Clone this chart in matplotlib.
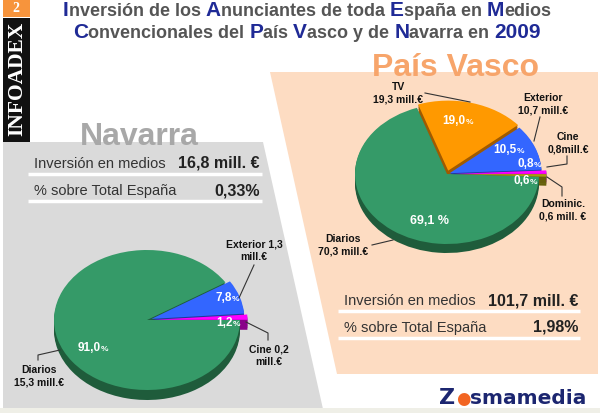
import matplotlib
matplotlib.use("Agg")
import matplotlib.pyplot as plt
from matplotlib.patches import Polygon

W, H = 600, 413

# ---- data ----
nav_labels = ["Cine", "Exterior", "Diarios"]
nav_pct = [1.2, 7.8, 91.0]
nav_outer = ["Cine 0,2\nmill.€", "Exterior 1,3\nmill.€", "Diarios\n15,3 mill.€"]
nav_total = "16,8 mill. €"
nav_share = "0,33%"

pv_labels = ["Cine", "Exterior", "TV", "Diarios", "Dominic."]
pv_pct = [0.8, 10.5, 19.0, 69.1, 0.6]
pv_outer = ["Cine\n0,8mill.€", "Exterior\n10,7 mill.€", "TV\n19,3 mill.€",
            "Diarios\n70,3 mill.€", "Dominic.\n0,6 mill. €"]
pv_total = "101,7 mill. €"
pv_share = "1,98%"

face = {"Diarios": "#359a68", "TV": "#ff9900", "Exterior": "#3366ff",
        "Cine": "#ff00ff", "Dominic.": "#a89c10"}
side = {"Diarios": "#1f5c3b", "TV": "#a05a00", "Exterior": "#1f3a99",
        "Cine": "#8a008a", "Dominic.": "#66600a"}

SANS = "Liberation Sans"
GREY_T = "#555555"
BLUE_T = "#1f2a96"

fig = plt.figure(figsize=(W / 100, H / 100), dpi=100)


def full_ax():
    a = fig.add_axes([0, 0, 1, 1])
    a.set_xlim(0, W)
    a.set_ylim(H, 0)
    a.set_axis_off()
    return a


bg = full_ax()
# panels
bg.add_patch(Polygon([(3, 142), (263, 142), (323, 409), (3, 409)], color="#dadada", lw=0))
bg.add_patch(Polygon([(270, 72), (598, 72), (598, 374), (337, 374)], color="#fddcc2", lw=0))
bg.add_patch(Polygon([(0, 408), (W, 408), (W, H), (0, H)], color="#efefe7", lw=0))
bg.add_patch(Polygon([(3, 0), (30, 0), (30, 17), (3, 17)], color="#f7943c", lw=0))
bg.add_patch(Polygon([(3, 18), (30, 18), (30, 142), (3, 142)], color="#111111", lw=0))


def draw_pie(cx, cy, rx, ry, depth, labels, values, explode):
    pad = 1.15

    def make_ax(dy):
        a = fig.add_axes([(cx - rx * pad) / W, (H - (cy + dy) - ry * pad) / H,
                          2 * rx * pad / W, 2 * ry * pad / H])
        a.set_axis_off()
        return a

    layers = list(range(depth, 0, -2)) + [0]
    for d in layers:
        a = make_ax(d)
        cols = [(face if d == 0 else side)[l] for l in labels]
        a.pie(values, colors=cols, startangle=0, counterclock=True,
              explode=explode, wedgeprops=dict(linewidth=0))
        a.set_aspect("auto")
        a.set_xlim(-pad, pad)
        a.set_ylim(-pad, pad)


draw_pie(147, 320, 93, 70, 10, nav_labels, nav_pct, [0.08, 0.05, 0])
draw_pie(447, 174, 92, 70, 9, pv_labels, pv_pct, [0.08, 0.03, 0.05, 0, 0.08])

ov = full_ax()
renderer = fig.canvas.get_renderer()


def width_of(s, props):
    a = ov.text(0, 0, "|" + s + "|", **props)
    b = ov.text(0, 0, "||", **props)
    w = a.get_window_extent(renderer).width - b.get_window_extent(renderer).width
    a.remove()
    b.remove()
    return w


def rich(x, y, parts, ha="left", **common):
    items = []
    for s, kw in parts:
        props = {"family": SANS, **common, **kw}
        items.append((s, props, width_of(s, props)))
    total = sum(w for _, _, w in items)
    x0 = x if ha == "left" else (x - total / 2 if ha == "center" else x - total)
    for s, props, w in items:
        ov.text(x0, y, s, ha="left", va="baseline", **props)
        x0 += w


# ---- title ----
g = dict(color=GREY_T, size=13, weight="bold")
b = dict(color=BLUE_T, size=15, weight="bold")
rich(307, 16, [("I", b), ("nversión de los ", g), ("A", b), ("nunciantes de toda ", g),
               ("E", b), ("spaña en ", g), ("M", b), ("edios", g)], ha="center")
rich(307, 38, [("C", b), ("onvencionales del ", g), ("P", b), ("aís ", g), ("V", b),
               ("asco y de ", g), ("N", b), ("avarra en ", g), ("2009", b)], ha="center")

# side logo
ov.text(16, 9, "2", color="white", family="Liberation Serif", weight="bold",
        size=10, ha="center", va="center")
ov.text(17, 79, "INFOADEX", color="white", family="Liberation Serif", weight="bold",
        size=15.5, rotation=90, ha="center", va="center")

# region titles
ov.text(80, 145, "Navarra", color="#a8a8a8", family=SANS, weight="bold", size=23,
        ha="left", va="baseline")
ov.text(455, 76, "País Vasco", color="#f7a56b", family=SANS, weight="bold", size=23,
        ha="center", va="baseline")


# info boxes
def info_box(x0, x1, y_first, gap, total, share):
    y = y_first
    for left, right in [("Inversión en medios", total), ("% sobre Total España", share)]:
        ov.text(x0 + 6, y, left, family=SANS, size=10.5, color="#333333", va="baseline")
        ov.text(x1 - 2, y, right, family=SANS, size=11.5, weight="bold",
                color="#222222", ha="right", va="baseline")
        ov.plot([x0, x1], [y + 5.5, y + 5.5], color="white", lw=2.5, solid_capstyle="butt")
        y += gap


info_box(28, 262, 168, 27, nav_total, nav_share)
info_box(338, 580, 305, 27, pv_total, pv_share)


def pct_text(v):
    return f"{v:.1f}".replace(".", ",")


lab = dict(color="white", weight="bold")
small = [("%", dict(lab, size=6))]
# Navarra inside labels
rich(227, 301, [(pct_text(nav_pct[1]), dict(lab, size=8.5))] + small, ha="center")
rich(228, 326, [(pct_text(nav_pct[0]), dict(lab, size=8.5))] + small, ha="center")
rich(93, 351, [(pct_text(nav_pct[2]), dict(lab, size=8.5))] + small, ha="center")
# Pais Vasco inside labels
rich(458, 124, [(pct_text(pv_pct[2]), dict(lab, size=8.5))] + small, ha="center")
rich(509, 153, [(pct_text(pv_pct[1]), dict(lab, size=8.5))] + small, ha="center")
rich(529, 167, [(pct_text(pv_pct[0]), dict(lab, size=8.5))] + small, ha="center")
rich(525, 184, [(pct_text(pv_pct[4]), dict(lab, size=8.5))] + small, ha="center")
rich(430, 224, [(pct_text(pv_pct[3]) + " %", dict(lab, size=9))], ha="center")

# outer labels
out = dict(family=SANS, weight="bold", size=7.5, color="#111111", ha="center",
           va="center", linespacing=1.35)
ov.text(269, 356, nav_outer[0], **out)
ov.text(254, 251, nav_outer[1], **out)
ov.text(39, 376, nav_outer[2], **out)
ov.text(568, 143, pv_outer[0], **out)
ov.text(543, 104, pv_outer[1], **out)
ov.text(398, 93, pv_outer[2], **out)
ov.text(343, 245, pv_outer[3], **out)
ov.text(563, 210, pv_outer[4], **out)

leaders = [
    [(254, 265), (239, 298)],
    [(246, 322), (268, 333), (268, 340)],
    [(38, 360), (38, 355), (60, 350)],
    [(425, 93), (470, 102)],
    [(540, 117), (534, 141)],
    [(547, 167), (567, 164), (567, 156)],
    [(547, 177), (562, 187), (562, 196)],
    [(372, 245), (393, 240)],
]
for pts in leaders:
    xs, ys = zip(*pts)
    ov.plot(xs, ys, color="#333333", lw=0.8)

# footer logo
navy = dict(color="#1c2670", weight="bold", size=14.5)
rich(513, 404, [("Z", dict(navy, size=16)),
                ("●", dict(color="#f26522", size=12)),
                ("smamedia", navy)], ha="center", family="DejaVu Sans")

fig.savefig("out.png", dpi=100)
